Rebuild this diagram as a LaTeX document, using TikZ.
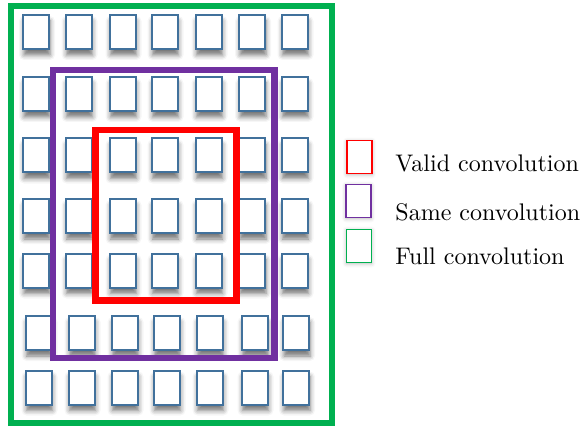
\documentclass[tikz,border=0pt]{standalone}
\usetikzlibrary{shadows.blur}
\definecolor{cellblue}{HTML}{41719C}
\definecolor{validred}{HTML}{FF0000}
\definecolor{samepurple}{HTML}{7030A0}
\definecolor{fullgreen}{HTML}{00B050}
\tikzset{
  cell/.style={draw=cellblue, line width=2pt, fill=white,
    minimum width=26pt, minimum height=34pt, inner sep=0pt,
    blur shadow={shadow xshift=1pt, shadow yshift=-6pt,
      shadow blur radius=5pt, shadow opacity=55}},
  frame/.style={line width=6.5pt},
  keybox/.style={line width=1.8pt, fill=white, minimum width=25pt,
    minimum height=33pt, inner sep=0pt,
    blur shadow={shadow xshift=0pt, shadow yshift=-1pt,
      shadow blur radius=4pt, shadow opacity=30}},
  keytext/.style={anchor=west, inner sep=0pt, font=\normalsize, scale=2.4}
}
\begin{document}
\begin{tikzpicture}[x=1pt, y=-1pt]
  \useasboundingbox (0,0) rectangle (585,427);
  % grid of cells: rows 1-5 and rows 6-7 sit slightly apart horizontally
  \foreach \r/\y in {1/32, 2/94, 3/155.5, 4/216, 5/270.5}{
    \foreach \c/\x in {1/36, 2/78.5, 3/122.5, 4/164.5, 5/208.5, 6/252, 7/294.5}{
      \node[cell] (b-\r-\c) at (\x,\y) {};
    }
  }
  \foreach \r/\y in {6/333, 7/387.5}{
    \foreach \c/\x in {1/38.5, 2/81.5, 3/124.5, 4/166.5, 5/209.5, 6/254.5, 7/296}{
      \node[cell] (b-\r-\c) at (\x,\y) {};
    }
  }
  % output regions
  \draw[frame, fullgreen] (11,6) rectangle (332,423);
  \draw[frame, samepurple] (53,70) rectangle (274.5,358);
  \draw[frame, validred] (95.5,130) rectangle (236.5,300.5);
  % legend
  \node[keybox, draw=validred] (kv) at (359.5,157) {};
  \node[keybox, draw=samepurple] (ks) at (358.5,201) {};
  \node[keybox, draw=fullgreen] (kf) at (359,246) {};
  \node[keytext] (tv) at (395,163) {Valid convolution};
  \node[keytext] (ts) at (395,212) {Same convolution};
  \node[keytext] (tf) at (395,256) {Full convolution};
\end{tikzpicture}
\end{document}
